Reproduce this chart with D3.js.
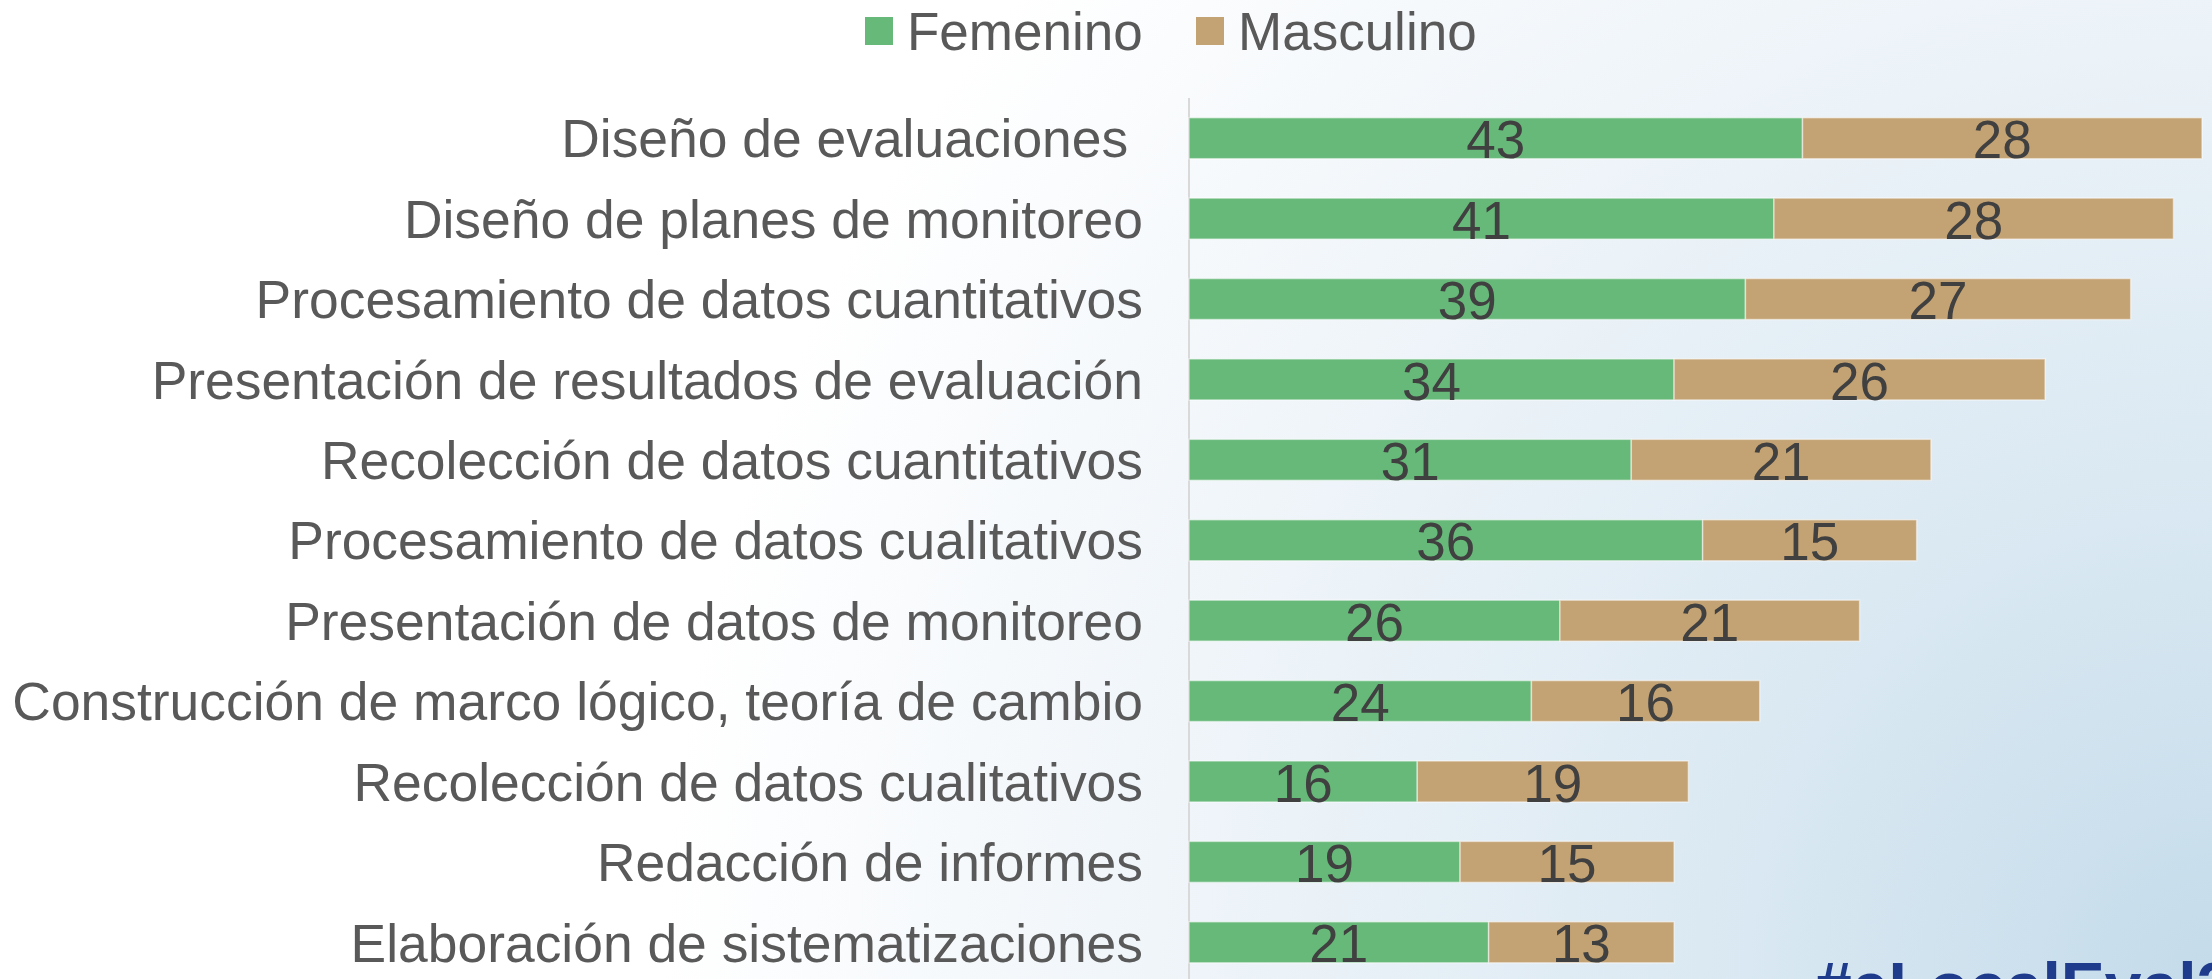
<!DOCTYPE html>
<html>
<head>
<meta charset="utf-8">
<script src="https://cdn.jsdelivr.net/npm/d3@7"></script>
<style>
  html, body { margin: 0; padding: 0; overflow: hidden; }
  svg { display: block; font-family: "Liberation Sans", Arial, sans-serif; }
  .label { fill: #595959; font-size: 53.4px; white-space: pre; }
  .value { fill: #404040; font-size: 53px; }
  .legend { fill: #595959; font-size: 53px; }
  .tag { fill: #1f3c8c; font-size: 66px; font-weight: bold; }
</style>
</head>
<body>
<svg width="2212" height="979"></svg>
<script>
const categories = [
  'Diseño de evaluaciones ',
  'Diseño de planes de monitoreo',
  'Procesamiento de datos cuantitativos',
  'Presentación de resultados de evaluación',
  'Recolección de datos cuantitativos',
  'Procesamiento de datos cualitativos',
  'Presentación de datos de monitoreo',
  'Construcción de marco lógico, teoría de cambio',
  'Recolección de datos cualitativos',
  'Redacción de informes',
  'Elaboración de sistematizaciones'
]
const femenino = [43, 41, 39, 34, 31, 36, 26, 24, 16, 19, 21]
const masculino = [28, 28, 27, 26, 21, 15, 21, 16, 19, 15, 13]
const seriesNames = ['Femenino', 'Masculino']
const colors = ['#67b97a', '#c3a273']

const width = 2212
const height = 979
const svg = d3.select('svg')

// background: white top-left fading to light blue bottom-right
const defs = svg.append('defs')
const grad = defs.append('radialGradient')
  .attr('id', 'bg')
  .attr('gradientUnits', 'userSpaceOnUse')
  .attr('cx', width).attr('cy', height)
  .attr('r', 1550)
grad.append('stop').attr('offset', 0).attr('stop-color', '#c4dbea')
grad.append('stop').attr('offset', 0.3).attr('stop-color', '#d9e8f2')
grad.append('stop').attr('offset', 0.65).attr('stop-color', '#eef4f9')
grad.append('stop').attr('offset', 1).attr('stop-color', '#ffffff')

svg.append('rect')
  .attr('width', width)
  .attr('height', height)
  .attr('fill', 'url(#bg)')

const data = categories.map((c, i) => ({name: c, Femenino: femenino[i], Masculino: masculino[i]}))
const stacked = d3.stack().keys(seriesNames)(data)

const x0 = 1189
const xScale = d3.scaleLinear()
  .domain([0, d3.max(data, d => d.Femenino + d.Masculino)])
  .range([x0, 2202])

const yScale = d3.scaleBand()
  .domain(categories)
  .range([98, 982.5])
  .paddingInner(0.49)
  .paddingOuter(0.245)

// vertical axis line
svg.append('line')
  .attr('x1', x0).attr('x2', x0)
  .attr('y1', yScale.range()[0]).attr('y2', height)
  .attr('stroke', '#d9d9d9')
  .attr('stroke-width', 2)

const layers = svg.selectAll('.layer')
  .data(stacked)
  .enter()
  .append('g')
  .attr('class', 'layer')
  .attr('fill', (d, i) => colors[i])

layers.selectAll('rect')
  .data(d => d)
  .enter()
  .append('rect')
  .attr('x', d => xScale(d[0]))
  .attr('y', d => yScale(d.data.name))
  .attr('width', d => xScale(d[1]) - xScale(d[0]))
  .attr('height', yScale.bandwidth())
  .attr('stroke', '#ffffff')
  .attr('stroke-opacity', 0.5)
  .attr('stroke-width', 1.5)

layers.selectAll('text')
  .data(d => d)
  .enter()
  .append('text')
  .attr('class', 'value')
  .attr('x', d => (xScale(d[0]) + xScale(d[1])) / 2)
  .attr('y', d => yScale(d.data.name) + yScale.bandwidth() / 2)
  .attr('dy', '0.38em')
  .attr('text-anchor', 'middle')
  .text(d => d[1] - d[0])

// category labels
svg.selectAll('.label')
  .data(categories)
  .enter()
  .append('text')
  .attr('class', 'label')
  .attr('x', 1143)
  .attr('y', d => yScale(d) + yScale.bandwidth() / 2)
  .attr('dy', '0.36em')
  .attr('text-anchor', 'end')
  .text(d => d)

// legend
const legendX = [865, 1196]
const legend = svg.selectAll('.leg')
  .data(seriesNames)
  .enter()
  .append('g')
  .attr('class', 'leg')
  .attr('transform', (d, i) => `translate(${legendX[i]}, 17)`)

legend.append('rect')
  .attr('width', 28)
  .attr('height', 28)
  .attr('fill', (d, i) => colors[i])

legend.append('text')
  .attr('class', 'legend')
  .attr('x', 42)
  .attr('y', 14)
  .attr('dy', '0.36em')
  .text(d => d)

// hashtag cut off at the bottom, as in the original slide
svg.append('text')
  .attr('class', 'tag')
  .attr('x', 1815)
  .attr('y', 1009)
  .text('#eLocalEval2')
</script>
</body>
</html>
